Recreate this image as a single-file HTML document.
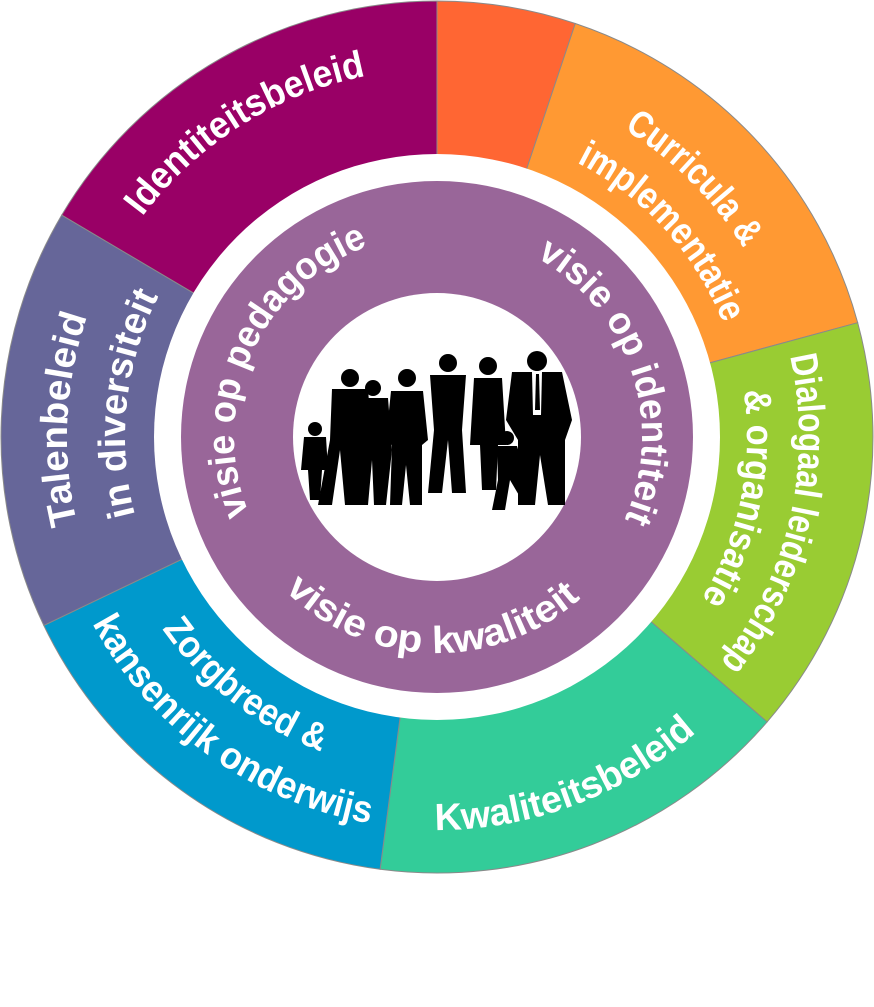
<!DOCTYPE html>
<html><head><meta charset="utf-8"><style>
html,body{margin:0;padding:0;background:#fff;}
svg{display:block;}
text{font-family:"Liberation Sans",sans-serif;font-weight:bold;fill:#fff;}
</style></head><body>
<svg width="874" height="1007" viewBox="0 0 874 1007" xmlns="http://www.w3.org/2000/svg">
<defs>
<path id="p1" d="M142.3,216.6 A368,368 0 0 1 404.9,70.4"/>
<path id="p2" d="M624.0,129.4 A360,360 0 0 1 763.3,284.9"/>
<path id="p3" d="M576.8,162.6 A308,308 0 0 1 734.5,357.3"/>
<path id="p4" d="M789.9,356.2 A362,362 0 0 1 693.0,693.0"/>
<path id="p5" d="M743.5,390.7 A310,310 0 0 1 674.5,636.3"/>
<path id="p6" d="M435.0,830 A393,393 0 0 0 738.0,689.6"/>
<path id="p7" d="M162.2,628.7 A335,335 0 0 0 378.8,766.9"/>
<path id="p8" d="M92.2,623.4 A392,392 0 0 0 423.3,828.8"/>
<path id="p9" d="M77.2,523.4 A370,370 0 0 1 101.7,280.6"/>
<path id="p10" d="M135.0,515.1 A312,312 0 0 1 181.4,258.0"/>
<path id="p11" d="M248.8,513.0 A203,203 0 0 1 401.8,237.1"/>
<path id="p12" d="M536.4,257.7 A205,205 0 0 1 604.9,554.6"/>
<path id="p13" d="M284.8,590.3 A216,216 0 0 0 602.5,575.8"/>
</defs>
<g stroke="#8a8a8a" stroke-width="1">
<path d="M437,437 L437,1 A436,436 0 0 1 575.3,23.5 Z" fill="#FF6633"/>
<path d="M437,437 L575.3,23.5 A436,436 0 0 1 857.7,322.7 Z" fill="#FF9933"/>
<path d="M437,437 L857.7,322.7 A436,436 0 0 1 767.1,721.9 Z" fill="#99CC33"/>
<path d="M437,437 L767.1,721.9 A436,436 0 0 1 380.1,869.3 Z" fill="#33CC99"/>
<path d="M437,437 L380.1,869.3 A436,436 0 0 1 43.8,625.4 Z" fill="#0099CC"/>
<path d="M437,437 L43.8,625.4 A436,436 0 0 1 61.7,215.1 Z" fill="#666699"/>
<path d="M437,437 L61.7,215.1 A436,436 0 0 1 437,1 Z" fill="#990066"/>
</g>
<circle cx="437" cy="437" r="283" fill="#fff"/>
<circle cx="437" cy="437" r="256" fill="#996699"/>
<circle cx="437" cy="437" r="144" fill="#fff"/>

<g font-size="38">
<text><textPath href="#p1" textLength="270" lengthAdjust="spacingAndGlyphs">Identiteitsbeleid</textPath></text>
<text><textPath href="#p2" textLength="170" lengthAdjust="spacingAndGlyphs">Curricula &amp;</textPath></text>
<text><textPath href="#p3" textLength="222" lengthAdjust="spacingAndGlyphs">implementatie</textPath></text>
<text><textPath href="#p4" textLength="325" lengthAdjust="spacingAndGlyphs">Dialogaal leiderschap</textPath></text>
<text><textPath href="#p5" textLength="217" lengthAdjust="spacingAndGlyphs">&amp; organisatie</textPath></text>
<text><textPath href="#p6" textLength="285" lengthAdjust="spacingAndGlyphs">Kwaliteitsbeleid</textPath></text>
<text><textPath href="#p7" textLength="204" lengthAdjust="spacingAndGlyphs">Zorgbreed &amp;</textPath></text>
<text><textPath href="#p8" textLength="354" lengthAdjust="spacingAndGlyphs">kansenrijk onderwijs</textPath></text>
<text><textPath href="#p9" textLength="210" lengthAdjust="spacingAndGlyphs">Talenbeleid</textPath></text>
<text><textPath href="#p10" textLength="225" lengthAdjust="spacingAndGlyphs">in diversiteit</textPath></text>
<text><textPath href="#p11" textLength="326" lengthAdjust="spacingAndGlyphs">visie op pedagogie</textPath></text>
<text><textPath href="#p12" textLength="303" lengthAdjust="spacingAndGlyphs">visie op identiteit</textPath></text>
<text><textPath href="#p13" textLength="326" lengthAdjust="spacingAndGlyphs">visie op kwaliteit</textPath></text>
</g>

<g fill="#000">
<circle cx="315" cy="429" r="7"/><path d="M304,437 L326,437 L328,470 L322,470 L320,500 L310,500 L308,470 L301,470 Z"/>
<circle cx="350" cy="378" r="9"/><path d="M332,389 L368,389 L372,440 L366,440 L362,505 L345,505 L340,450 L332,505 L318,505 L330,440 Z"/>
<circle cx="373" cy="388" r="8"/><path d="M360,398 L388,398 L392,450 L386,505 L374,505 L372,460 L368,505 L358,505 L360,450 Z"/>
<circle cx="407" cy="378" r="9"/><path d="M391,391 L423,391 L428,440 L422,445 L422,505 L410,505 L406,465 L402,505 L390,505 L392,445 L386,440 Z"/>
<circle cx="448" cy="363" r="9"/><path d="M430,375 L466,375 L462,430 L466,493 L452,493 L448,440 L442,493 L428,493 L434,430 Z"/>
<circle cx="488" cy="366" r="9"/><path d="M474,378 L502,378 L506,445 L498,445 L496,490 L482,490 L480,445 L470,445 Z"/>
<circle cx="507" cy="438" r="7"/><path d="M497,446 L517,446 L532,495 L520,497 L510,480 L505,510 L492,510 L498,480 Z"/>
<circle cx="537" cy="361" r="10"/><path d="M512,372 L562,372 L572,420 L565,440 L565,505 L548,505 L540,455 L535,505 L518,505 L518,440 L506,420 Z"/>
</g>
<path d="M532,372 L542,372 L541,415 L533,415 Z" fill="#fff"/>
<path d="M536,374 L539,374 L540,410 L535,410 Z" fill="#000"/>
</svg>
</body></html>
